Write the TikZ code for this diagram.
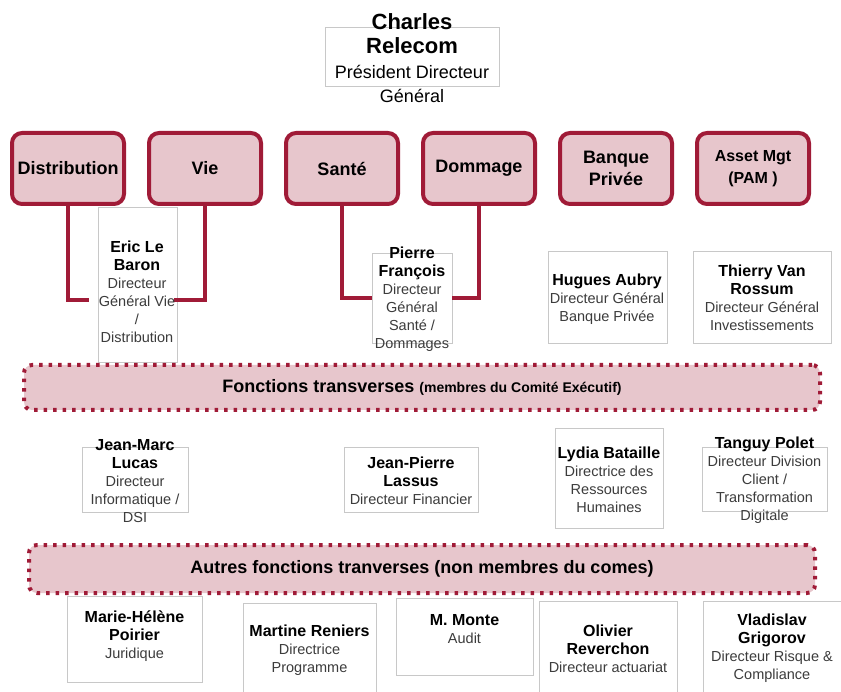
\documentclass[tikz,border=0pt]{standalone}
\usepackage{fontspec}
\setmainfont{Liberation Sans}
\usetikzlibrary{positioning}
\definecolor{ExecRed}{RGB}{160,27,55}
\definecolor{ExecPink}{RGB}{231,198,204}
\definecolor{CardGray}{RGB}{200,200,200}
\definecolor{TextGray}{RGB}{60,60,60}
\newcommand{\pname}[1]{{\fontsize{16}{18}\selectfont\bfseries\color{black}#1}}
\tikzset{
  unit/.style={draw=ExecRed,line width=4pt,fill=ExecPink,rounded corners=10pt,
    minimum width=112pt,minimum height=71pt,align=center,
    font=\fontsize{18}{22}\selectfont\bfseries},
  card/.style={draw=CardGray,line width=0.8pt,fill=white,inner sep=0pt},
  who/.style={align=center,inner sep=0pt,text=TextGray,font=\fontsize{14.5}{18}\selectfont},
  link/.style={draw=ExecRed,line width=4pt},
  band/.style={draw=ExecRed,line width=4pt,dash pattern=on 3.5pt off 6pt,fill=ExecPink,
    rounded corners=8pt,font=\fontsize{18}{22}\selectfont\bfseries},
}

\begin{document}
\begin{tikzpicture}[x=1pt,y=-1pt,node distance=21pt]
\useasboundingbox (0,0) rectangle (841,692);
\clip (0,0) rectangle (841,692);
\node[card,minimum width=174pt,minimum height=59pt] (pdgbox) at (412,56.5) {};
\node[card,minimum width=79pt,minimum height=155pt] (ericbox) at (137.5,284.5) {};
\node[card,minimum width=80pt,minimum height=90pt] (pierrebox) at (412,298) {};
\node[card,minimum width=119pt,minimum height=92pt] (huguesbox) at (607.5,297) {};
\node[card,minimum width=138pt,minimum height=92pt] (thierrybox) at (762,297) {};
\node[card,minimum width=106pt,minimum height=65pt] (marcbox) at (135,479.5) {};
\node[card,minimum width=134pt,minimum height=65pt] (lassusbox) at (411,479.5) {};
\node[card,minimum width=108pt,minimum height=100pt] (lydiabox) at (609,478) {};
\node[card,minimum width=125pt,minimum height=64pt] (tanguybox) at (764.5,479) {};
\node[card,minimum width=135pt,minimum height=86pt] (mariebox) at (134.5,639) {};
\node[card,minimum width=133pt,minimum height=97pt] (martinebox) at (309.5,651.5) {};
\node[card,minimum width=137pt,minimum height=77pt] (montebox) at (464.5,636.5) {};
\node[card,minimum width=138pt,minimum height=99pt] (olivierbox) at (608,650.5) {};
\node[card,minimum width=139pt,minimum height=99pt] (vladbox) at (772.5,650.5) {};

\node[unit] (distrib) at (68,168.5) {Distribution};
\node[unit,right=of distrib] (vie) {Vie};
\node[unit,right=of vie] (sante) {Santé};
\node[unit,right=of sante] (dommage) {Dommage};
\node[unit,right=of dommage] (banque) {Banque\\Privée};
\node[unit,right=of banque,font=\fontsize{16}{22}\selectfont\bfseries] (asset) {Asset Mgt\\(PAM )};

\coordinate (ericL) at (89,300);
\coordinate (ericR) at (174,300);
\draw[link] (distrib.south) |- (ericL);
\draw[link] (vie.south) |- (ericR);
\draw[link] (sante.south) |- (pierrebox.west);
\draw[link] (dommage.south) |- (pierrebox.east);

\node[band,minimum width=796pt,minimum height=45pt] (fonctions) at (422,387.5)
  {Fonctions transverses {\fontsize{14}{18}\selectfont(membres du Comité Exécutif)}};
\node[band,minimum width=786pt,minimum height=48pt] (autres) at (422,569)
  {Autres fonctions tranverses (non membres du comes)};

\node[who,text=black,font=\fontsize{18}{24.5}\selectfont] (pdg) at (412,58)
  {{\fontsize{22}{24}\selectfont\bfseries Charles}\\{\fontsize{22}{24}\selectfont\bfseries Relecom}\\Président Directeur\\Général};
\node[who] (eric) at (137,292) {\pname{Eric Le}\\\pname{Baron}\\Directeur\\Général Vie\\/\\Distribution};
\node[who] (pierre) at (412,299) {\pname{Pierre}\\\pname{François}\\Directeur\\Général\\Santé /\\Dommages};
\node[who] (hugues) at (607,299) {\pname{Hugues Aubry}\\Directeur Général\\Banque Privée};
\node[who] (thierry) at (762,298) {\pname{Thierry Van}\\\pname{Rossum}\\Directeur Général\\Investissements};
\node[who] (marc) at (135,481) {\pname{Jean-Marc}\\\pname{Lucas}\\Directeur\\Informatique /\\DSI};
\node[who] (lassus) at (411,480.5) {\pname{Jean-Pierre}\\\pname{Lassus}\\Directeur Financier};
\node[who] (lydia) at (609,479.5) {\pname{Lydia Bataille}\\Directrice des\\Ressources\\Humaines};
\node[who] (tanguy) at (764.5,480) {\pname{Tanguy Polet}\\Directeur Division\\Client /\\Transformation\\Digitale};
\node[who] (marie) at (134.5,636) {\pname{Marie-Hélène}\\\pname{Poirier}\\Juridique};
\node[who] (martine) at (309.5,650.5) {\pname{Martine Reniers}\\Directrice\\Programme};
\node[who] (monte) at (464.5,629) {\pname{M. Monte}\\Audit};
\node[who] (olivier) at (608,648.5) {\pname{Olivier}\\\pname{Reverchon}\\Directeur actuariat};
\node[who] (vlad) at (772,648.5) {\pname{Vladislav}\\\pname{Grigorov}\\Directeur Risque \&\\Compliance};
\end{tikzpicture}
\end{document}
